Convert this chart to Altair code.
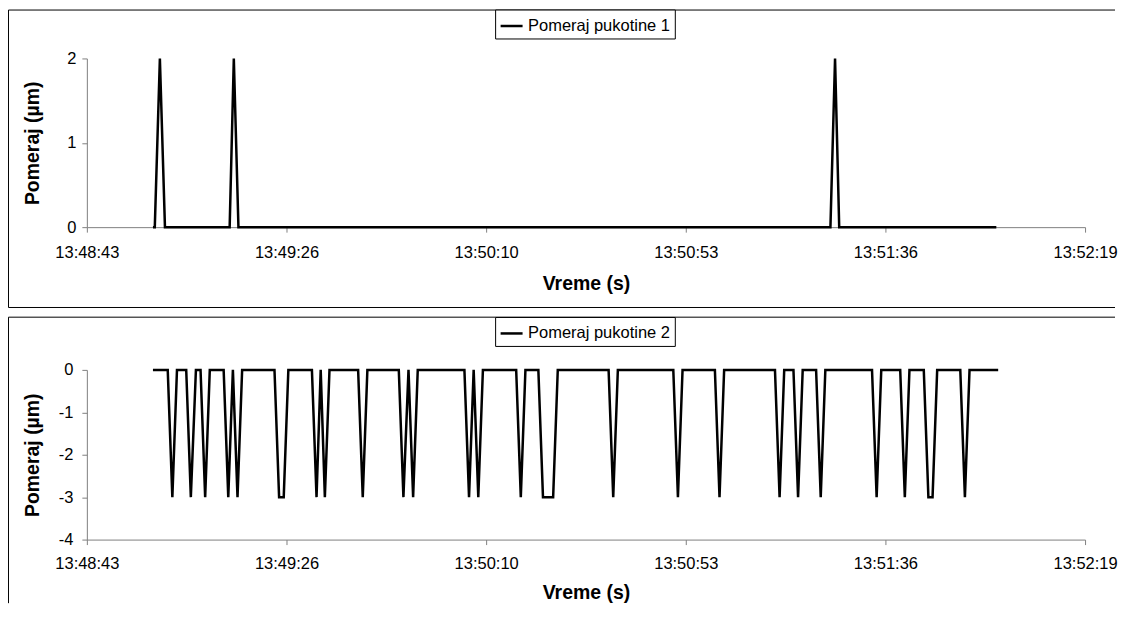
import altair as alt
import pandas as pd

# x axis: seconds after 13:48:43 (Excel time axis split into 5 equal steps)
tick_seconds = [0, 43.2, 86.4, 129.6, 172.8, 216.0]
tick_labels = ["13:48:43", "13:49:26", "13:50:10", "13:50:53", "13:51:36", "13:52:19"]

x_title = "Vreme (s)"
y_title = "Pomeraj (µm)"

series1_name = "Pomeraj pukotine 1"
t1 = [14.3, 14.7, 15.8, 16.9, 30.9, 31.8, 32.8, 160.9, 161.9, 162.8, 196.8]
v1 = [0, 0, 2, 0, 0, 2, 0, 0, 2, 0, 0]

series2_name = "Pomeraj pukotine 2"
t2 = [14.3, 17.5, 18.5, 19.5, 21.5, 22.5, 23.6, 24.6, 25.6, 26.6,
      29.6, 30.6, 31.6, 32.6, 33.6, 40.6, 41.6, 42.6, 43.6,
      48.7, 49.7, 50.6, 51.5, 52.5, 58.7, 59.7, 60.7,
      67.5, 68.5, 69.6, 70.6, 71.6, 81.7, 82.7, 83.7, 84.7, 85.7,
      92.9, 93.9, 94.9, 97.7, 98.7, 100.9, 101.9,
      112.9, 113.9, 114.9, 126.9, 127.9, 128.9, 135.9, 136.9, 137.9,
      148.9, 149.9, 150.9, 152.9, 153.9, 154.9, 157.8, 158.8, 159.8,
      169.9, 170.9, 171.9, 176.0, 177.0, 178.0, 181.1, 182.1, 183.0, 184.0,
      189.0, 190.0, 191.0, 197.2]
v2 = [0, 0, -3, 0, 0, -3, 0, 0, -3, 0,
      0, -3, 0, -3, 0, 0, -3, -3, 0,
      0, -3, 0, -3, 0, 0, -3, 0,
      0, -3, 0, -3, 0, 0, -3, 0, -3, 0,
      0, -3, 0, 0, -3, -3, 0,
      0, -3, 0, 0, -3, 0, 0, -3, 0,
      0, -3, 0, 0, -3, 0, 0, -3, 0,
      0, -3, 0, 0, -3, 0, 0, -3, -3, 0,
      0, -3, 0, 0]

df1 = pd.DataFrame({"t": t1, "v": v1, "series": series1_name})
df2 = pd.DataFrame({"t": t2, "v": v2, "series": series2_name})

FONT = "Liberation Sans"
W = 1000
AXIS_GRAY = "#7f7f7f"

label_expr = "[" + ",".join("'%s'" % s for s in tick_labels) + "][round(datum.value / 43.2)]"
one = alt.Data(values=[{"k": 0}])


def panel(df, y_domain, y_values, h, lab_pad_x, lab_pad_y, title_y, legend_y,
          frame_top, frame_bottom, draw_bottom):
    x = alt.X("t:Q",
              scale=alt.Scale(domain=[0, 216], nice=False, zero=False),
              axis=alt.Axis(values=tick_seconds, labelExpr=label_expr, title=x_title,
                            labelFlush=False, labelOverlap=False, grid=False,
                            tickSize=5, labelPadding=lab_pad_x,
                            titleY=title_y, titleBaseline="alphabetic"))
    y = alt.Y("v:Q",
              scale=alt.Scale(domain=y_domain, nice=False, zero=False),
              axis=alt.Axis(values=y_values, labelExpr="datum.value + ''", title=y_title,
                            grid=False, tickSize=5, labelPadding=lab_pad_y,
                            titleX=-54, titleY=h / 2, titleAlign="center",
                            titleBaseline="middle", titleAngle=-90))
    line = alt.Chart(df).mark_line(strokeWidth=2.5).encode(
        x=x, y=y,
        color=alt.Color("series:N", scale=alt.Scale(range=["#000000"]),
                        legend=alt.Legend(title=None, orient="none", legendX=409,
                                          legendY=legend_y, strokeColor="#000000",
                                          fillColor="#ffffff", padding=4,
                                          symbolType="stroke", symbolSize=484,
                                          symbolStrokeWidth=2.5, labelOffset=4,
                                          labelFontSize=16.5, labelFont=FONT,
                                          labelColor="#000000", labelLimit=300)),
    )
    layers = [line]
    # chart-area frame (left + top, and bottom for the first panel)
    layers.append(alt.Chart(one).mark_rule(color="#000000", strokeWidth=1).encode(
        x=alt.value(-78.5), x2=alt.value(1030), y=alt.value(frame_top)))
    layers.append(alt.Chart(one).mark_rule(color="#000000", strokeWidth=1).encode(
        x=alt.value(-78.5), y=alt.value(frame_top), y2=alt.value(frame_bottom)))
    if draw_bottom:
        layers.append(alt.Chart(one).mark_rule(color="#000000", strokeWidth=1).encode(
            x=alt.value(-78.5), x2=alt.value(1030), y=alt.value(frame_bottom)))
    return alt.layer(*layers).properties(width=W, height=h)


top = panel(df1, [0, 2], [0, 1, 2], 169, 12, 6, 62.7, -49, -48.5, 249.5, True)
bottom = panel(df2, [-4, 0], [-4, -3, -2, -1, 0], 170, 10.5, 9, 59, -53, -52.8, 233.7, False)

chart = alt.vconcat(top, bottom, spacing=8).resolve_scale(color="independent").properties(
    padding=0, background="#ffffff"
).configure_view(strokeWidth=0).configure_axis(
    labelFont=FONT, labelFontSize=16.5, labelColor="#000000",
    titleFont=FONT, titleFontSize=19.5, titleFontWeight="bold", titleColor="#000000",
    domainColor=AXIS_GRAY, tickColor=AXIS_GRAY, domainWidth=1, tickWidth=1,
)

chart.save("out.html", embed_options={"renderer": "svg", "actions": False})
